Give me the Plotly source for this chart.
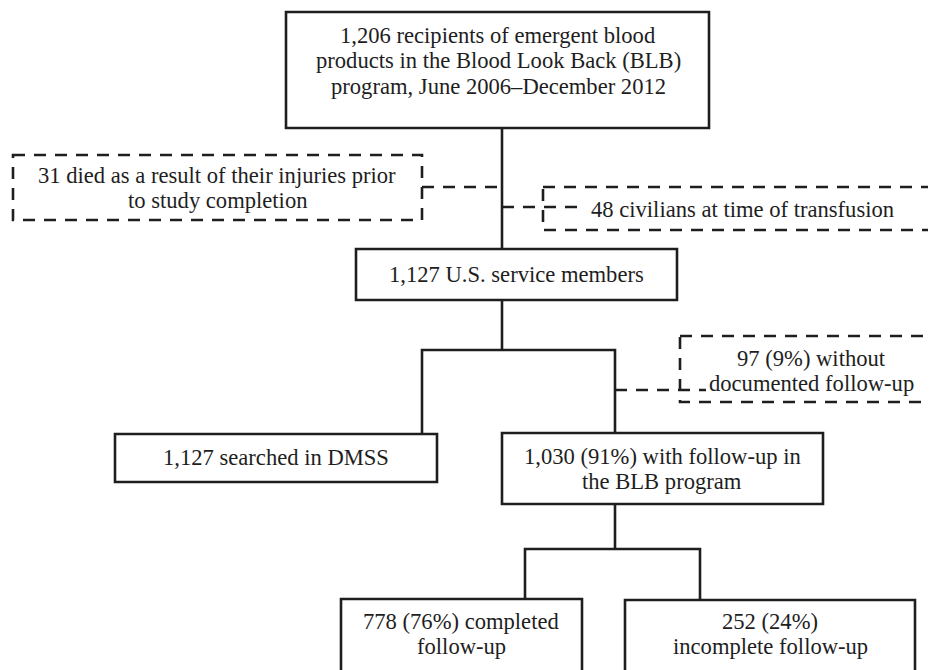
import plotly.graph_objects as go

# ---------------- data (text content of the flow chart) ----------------
top_lines = ["1,206 recipients of emergent blood",
             "products in the Blood Look Back (BLB)",
             "program, June 2006–December 2012"]
died_lines = ["31 died as a result of their injuries prior",
              "to study completion"]
civ_lines = ["48 civilians at time of transfusion"]
svc_lines = ["1,127 U.S. service members"]
nodoc_lines = ["97 (9%) without", "documented follow-up"]
dmss_lines = ["1,127 searched in DMSS"]
fu_lines = ["1,030 (91%) with follow-up in", "the BLB program"]
done_lines = ["778 (76%) completed", "follow-up"]
inc_lines = ["252 (24%)", "incomplete follow-up"]

# ---------------- layout (pixel geometry, y downwards) ----------------
W, H = 936, 670
OFF = 8  # page body margin: shift the axis so coordinates equal screen pixels
INK = "#1e1e1e"
FONT = dict(family="Liberation Serif, Times New Roman, serif", size=22.6, color=INK)
LW = 2.6
DASH = "12px,9px"
LINE_GAP = 25.5

# box: (x0, y0, x1, y1, dashed, lines, text_cx, first_line_y)
boxes = [
    (286, 12, 709, 128, False, top_lines, 498, 35),
    (13, 155, 422, 220, True, died_lines, 217, 175),
    (543, 187, 948, 230, True, civ_lines, 742, 209),
    (356, 249, 677, 300, False, svc_lines, 516, 274),
    (680, 336, 946, 402, True, nodoc_lines, 811, 358),
    (115, 434, 437, 482, False, dmss_lines, 276, 457),
    (502, 433, 823, 504, False, fu_lines, 662, 456),
    (341, 599, 582, 700, False, done_lines, 461, 621),
    (625, 600, 915, 700, False, inc_lines, 770, 621),
]

# connectors: (points, dashed)
connectors = [
    ([(502, 128), (502, 249)], False),
    ([(422, 187), (502, 187)], True),
    ([(502, 207), (578, 207)], True),
    ([(502, 300), (502, 350)], False),
    ([(422, 434), (422, 350), (615, 350), (615, 433)], False),
    ([(615, 390), (706, 390)], True),
    ([(615, 504), (615, 549)], False),
    ([(525, 599), (525, 549), (700, 549), (700, 600)], False),
]

fig = go.Figure()
fig.add_trace(go.Scatter(x=[OFF, W + OFF], y=[OFF, H + OFF], mode="markers",
                         marker=dict(opacity=0), hoverinfo="skip", showlegend=False))

shapes = []
annotations = []
for x0, y0, x1, y1, dashed, lines, cx, ly in boxes:
    shapes.append(dict(type="rect", xref="x", yref="y", x0=x0, y0=y0, x1=x1, y1=y1,
                       line=dict(color=INK, width=LW, dash=DASH if dashed else "solid"),
                       fillcolor="rgba(0,0,0,0)", layer="above"))
    for i, t in enumerate(lines):
        annotations.append(dict(x=cx, y=ly + i * LINE_GAP, xref="x", yref="y", text=t,
                                showarrow=False, xanchor="center", yanchor="middle", font=FONT))

for pts, dashed in connectors:
    path = "M " + " L ".join(f"{x},{y}" for x, y in pts)
    shapes.append(dict(type="path", xref="x", yref="y", path=path,
                       line=dict(color=INK, width=LW, dash=DASH if dashed else "solid"),
                       layer="above"))

fig.update_layout(
    width=W, height=H,
    margin=dict(l=0, r=0, t=0, b=0),
    paper_bgcolor="white", plot_bgcolor="white",
    xaxis=dict(range=[OFF, W + OFF], visible=False, fixedrange=True),
    yaxis=dict(range=[H + OFF, OFF], visible=False, fixedrange=True),
    shapes=shapes, annotations=annotations,
    showlegend=False,
)

fig.write_html("out.html", config={"displayModeBar": False})
